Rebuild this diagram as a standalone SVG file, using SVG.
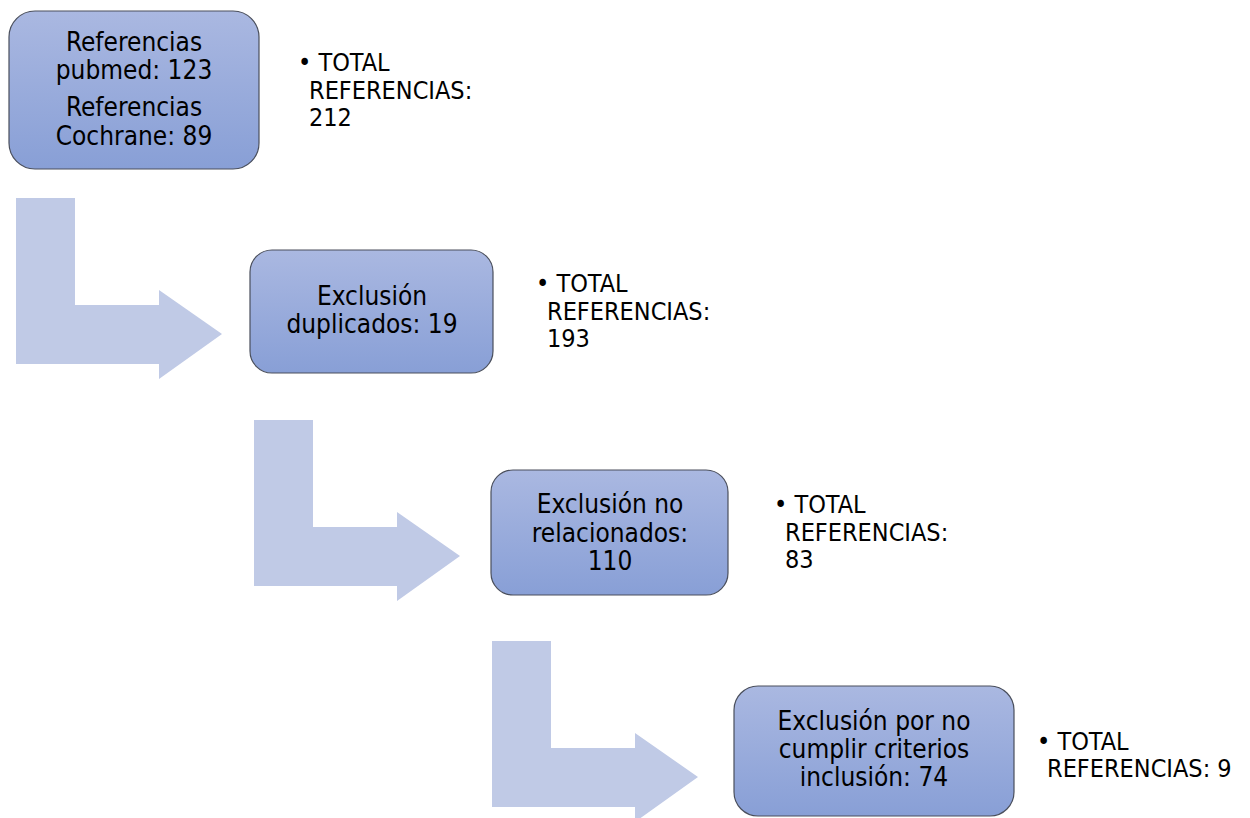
<svg xmlns="http://www.w3.org/2000/svg" width="1250" height="818" viewBox="0 0 1250 818">
<defs>
<linearGradient id="g" x1="0" y1="0" x2="0" y2="1">
<stop offset="0" stop-color="#aab8e1"/>
<stop offset="1" stop-color="#889fd6"/>
</linearGradient>
</defs>
<style>
.box{fill:url(#g);stroke:#4a4f5c;stroke-width:1.2}
.arrow{fill:#c0cae6}
text{font-family:"DejaVu Sans Condensed","DejaVu Sans",sans-serif;font-stretch:condensed;font-size:25px;fill:#000}
.c{text-anchor:middle;font-size:26px}
</style>
<g id="connectors">
<path class="arrow" d="M16,198 H75 V305 H159 V290 L222,334 L159,379 V364 H16 Z"/>
<path class="arrow" d="M254,420 H313 V527 H397 V512 L460,556 L397,601 V586 H254 Z"/>
<path class="arrow" d="M492,641 H551 V748 H635 V733 L698,777 L635,822 V807 H492 Z"/>
</g>
<g id="node1">
<rect class="box" x="9" y="11" width="250" height="158" rx="26"/>
<text class="c" x="134" y="51">Referencias</text>
<text class="c" x="134" y="79">pubmed: 123</text>
<text class="c" x="134" y="116">Referencias</text>
<text class="c" x="134" y="145">Cochrane: 89</text>
</g>
<g id="total1">
<text x="298" y="71">• TOTAL</text>
<text x="309" y="99">REFERENCIAS:</text>
<text x="309" y="126">212</text>
</g>
<g id="node2">
<rect class="box" x="250" y="250" width="243" height="123" rx="22"/>
<text class="c" x="372" y="305">Exclusión</text>
<text class="c" x="372" y="333">duplicados: 19</text>
</g>
<g id="total2">
<text x="536" y="292">• TOTAL</text>
<text x="547" y="320">REFERENCIAS:</text>
<text x="547" y="347">193</text>
</g>
<g id="node3">
<rect class="box" x="491" y="470" width="237" height="125" rx="22"/>
<text class="c" x="610" y="513">Exclusión no</text>
<text class="c" x="610" y="542">relacionados:</text>
<text class="c" x="610" y="570">110</text>
</g>
<g id="total3">
<text x="774" y="513">• TOTAL</text>
<text x="785" y="541">REFERENCIAS:</text>
<text x="785" y="568">83</text>
</g>
<g id="node4">
<rect class="box" x="734" y="686" width="280" height="130" rx="24"/>
<text class="c" x="874" y="730">Exclusión por no</text>
<text class="c" x="874" y="758">cumplir criterios</text>
<text class="c" x="874" y="786">inclusión: 74</text>
</g>
<g id="total4">
<text x="1037" y="750">• TOTAL</text>
<text x="1047" y="777">REFERENCIAS: 9</text>
</g>
</svg>
